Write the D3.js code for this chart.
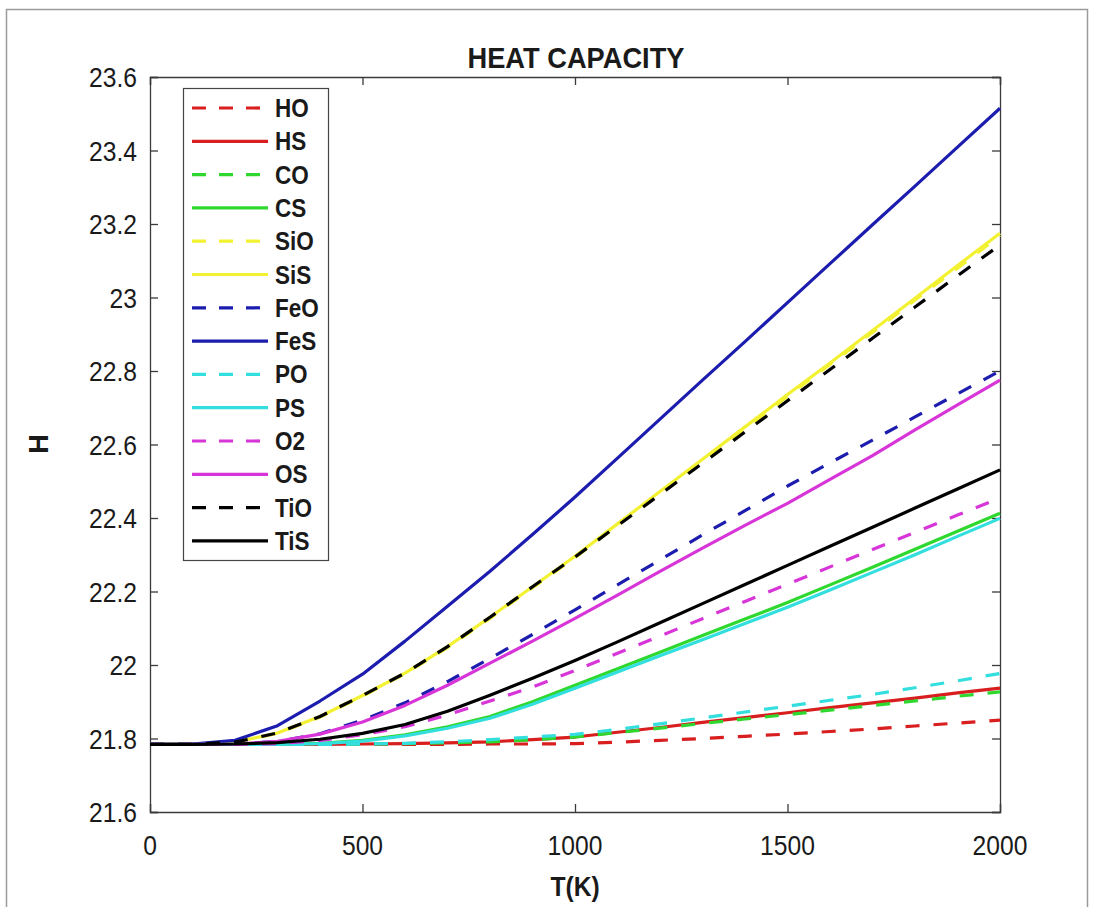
<!DOCTYPE html>
<html lang="en">
  <head>
    <meta charset="utf-8">
    <title>Heat capacity</title>
    <style>
    body {
        margin: 0;
        background: #fff;
    }
    #chart {
        width: 1094px;
        height: 907px;
        position: relative;
    }
    text {
        font-family: "Liberation Sans", Arial, sans-serif;
        fill: #1a1a1a;
    }
    .axis path, .axis line {
        stroke: #3a3a3a;
        stroke-width: 1.3;
    }
    .legend text {
        font-weight: bold;
        font-size: 25px;
    }
    </style>
  </head>
  <body>
    <div id="chart"></div>

    <script src="https://d3js.org/d3.v7.min.js"></script>
    <script>
    // temperature grid (K)
    var temps = [0, 100, 200, 300, 400, 500, 600, 700, 800, 900, 1000,
                 1100, 1200, 1300, 1400, 1500, 1600, 1700, 1800, 1900, 2000];

    var names = ['HO', 'HS', 'CO', 'CS', 'SiO', 'SiS', 'FeO', 'FeS',
                 'PO', 'PS', 'O2', 'OS', 'TiO', 'TiS'];

    var HO  = [21.784,21.784,21.784,21.784,21.784,21.784,21.784,21.784,21.785,21.785,21.786,21.790,21.795,21.800,21.806,21.812,21.819,21.826,21.834,21.842,21.850];
    var HS  = [21.784,21.784,21.784,21.784,21.784,21.785,21.786,21.788,21.791,21.797,21.804,21.817,21.830,21.844,21.857,21.870,21.884,21.897,21.910,21.924,21.937];
    var CO  = [21.784,21.784,21.784,21.784,21.784,21.785,21.786,21.788,21.791,21.797,21.804,21.816,21.828,21.841,21.853,21.865,21.877,21.890,21.902,21.915,21.927];
    var CS  = [21.784,21.784,21.784,21.784,21.787,21.795,21.810,21.832,21.860,21.900,21.945,21.990,22.035,22.080,22.125,22.170,22.218,22.266,22.315,22.364,22.413];
    var SiO = [21.784,21.784,21.790,21.814,21.858,21.915,21.976,22.047,22.127,22.210,22.292,22.380,22.468,22.556,22.643,22.731,22.818,22.905,22.993,23.080,23.168];
    var SiS = [21.784,21.784,21.790,21.815,21.860,21.917,21.978,22.050,22.130,22.213,22.296,22.384,22.472,22.560,22.648,22.736,22.822,22.910,22.998,23.087,23.175];
    var FeO = [21.784,21.784,21.785,21.792,21.813,21.850,21.897,21.955,22.018,22.083,22.150,22.218,22.286,22.354,22.420,22.487,22.550,22.612,22.675,22.738,22.800];
    var FeS = [21.784,21.785,21.795,21.835,21.902,21.975,22.065,22.160,22.255,22.355,22.457,22.563,22.669,22.775,22.880,22.986,23.092,23.198,23.303,23.409,23.515];
    var PO  = [21.784,21.784,21.784,21.784,21.784,21.785,21.787,21.791,21.797,21.804,21.811,21.825,21.840,21.856,21.872,21.888,21.904,21.920,21.938,21.957,21.977];
    var PS  = [21.784,21.784,21.784,21.784,21.786,21.793,21.807,21.828,21.855,21.893,21.937,21.981,22.025,22.069,22.113,22.157,22.204,22.252,22.300,22.350,22.399];
    var O2  = [21.784,21.784,21.784,21.786,21.795,21.810,21.832,21.864,21.902,21.940,21.985,22.032,22.079,22.126,22.173,22.220,22.267,22.314,22.361,22.408,22.454];
    var OS  = [21.784,21.784,21.785,21.792,21.812,21.845,21.890,21.945,22.005,22.065,22.127,22.190,22.255,22.318,22.380,22.440,22.505,22.570,22.640,22.708,22.775];
    var TiO = [21.784,21.784,21.790,21.815,21.860,21.917,21.978,22.050,22.130,22.213,22.294,22.379,22.464,22.549,22.634,22.719,22.804,22.889,22.974,23.059,23.143];
    var TiS = [21.784,21.784,21.785,21.789,21.798,21.814,21.838,21.874,21.918,21.964,22.012,22.063,22.115,22.167,22.219,22.271,22.323,22.375,22.427,22.479,22.531];

    var xTicks = [0, 500, 1000, 1500, 2000];
    var xTickLabels = ['0', '500', '1000', '1500', '2000'];
    var yTicks = [21.6, 21.8, 22, 22.2, 22.4, 22.6, 22.8, 23, 23.2, 23.4, 23.6];
    var yTickLabels = ['21.6', '21.8', '22', '22.2', '22.4', '22.6', '22.8', '23', '23.2', '23.4', '23.6'];

    (function(d3) {
        'use strict';

        var values = [HO, HS, CO, CS, SiO, SiS, FeO, FeS, PO, PS, O2, OS, TiO, TiS];

        // matlab style: dashed = oxide, solid = sulfide
        var colors = ['#d81e1e', '#d81e1e', '#2fd82f', '#2fd82f', '#f2f232', '#f2f232',
                      '#1c1cae', '#1c1cae', '#33dede', '#33dede', '#d835d8', '#d835d8',
                      '#000000', '#000000'];
        var dashed = function(i) { return i % 2 === 0; };

        var width = 1094;
        var height = 907;
        var squeeze = 0.88;   // source text looks horizontally condensed

        var svg = d3.select('#chart')
            .append('svg')
            .attr('width', width)
            .attr('height', height);

        // figure frame
        svg.append('rect')
            .attr('x', 6.5)
            .attr('y', 9.5)
            .attr('width', 1081)
            .attr('height', 1000)
            .attr('fill', 'none')
            .attr('stroke', '#9a9a9a')
            .attr('stroke-width', 1.5);

        var x = d3.scaleLinear().domain([0, 2000]).range([150, 1000]);
        var y = d3.scaleLinear().domain([21.6, 23.6]).range([812, 77]);

        svg.append('rect')
            .attr('x', x(0)).attr('y', y(23.6))
            .attr('width', x(2000) - x(0))
            .attr('height', y(21.6) - y(23.6))
            .attr('fill', '#fff');

        // axes, ticks pointing inward on all four sides
        svg.append('g').attr('class', 'axis')
            .attr('transform', 'translate(0,' + y(21.6) + ')')
            .call(d3.axisBottom(x).tickValues(xTicks).tickSize(-8).tickFormat(''));
        svg.append('g').attr('class', 'axis')
            .attr('transform', 'translate(0,' + y(23.6) + ')')
            .call(d3.axisTop(x).tickValues(xTicks).tickSize(-8).tickFormat(''));
        svg.append('g').attr('class', 'axis')
            .attr('transform', 'translate(' + x(0) + ',0)')
            .call(d3.axisLeft(y).tickValues(yTicks).tickSize(-8).tickFormat(''));
        svg.append('g').attr('class', 'axis')
            .attr('transform', 'translate(' + x(2000) + ',0)')
            .call(d3.axisRight(y).tickValues(yTicks).tickSize(-8).tickFormat(''));
        svg.selectAll('.axis path').attr('fill', 'none');

        // tick labels
        svg.selectAll('.xlab')
            .data(xTicks)
            .enter()
            .append('text')
            .attr('class', 'xlab')
            .attr('text-anchor', 'middle')
            .style('font-size', '28px')
            .attr('transform', function(d) {
                return 'translate(' + x(d) + ',855) scale(' + squeeze + ',1)';
            })
            .text(function(d, i) { return xTickLabels[i]; });

        svg.selectAll('.ylab')
            .data(yTicks)
            .enter()
            .append('text')
            .attr('class', 'ylab')
            .attr('text-anchor', 'end')
            .style('font-size', '28px')
            .attr('transform', function(d) {
                return 'translate(137,' + (y(d) + 10) + ') scale(' + squeeze + ',1)';
            })
            .text(function(d, i) { return yTickLabels[i]; });

        // lines
        var line = d3.line()
            .x(function(d, i) { return x(temps[i]); })
            .y(function(d) { return y(d); });

        svg.append('g')
            .selectAll('path')
            .data(values)
            .enter()
            .append('path')
            .attr('d', line)
            .attr('fill', 'none')
            .attr('stroke', function(d, i) { return colors[i]; })
            .attr('stroke-width', 3.2)
            .attr('stroke-linejoin', 'round')
            .attr('stroke-dasharray', function(d, i) { return dashed(i) ? '14,14' : null; });

        // title and axis labels
        svg.append('text')
            .attr('text-anchor', 'middle')
            .attr('transform', 'translate(576,68) scale(0.94,1)')
            .style('font-size', '29px')
            .style('font-weight', 'bold')
            .text('HEAT CAPACITY');

        svg.append('text')
            .attr('text-anchor', 'middle')
            .attr('transform', 'translate(575,896) scale(' + squeeze + ',1)')
            .style('font-size', '28px')
            .style('font-weight', 'bold')
            .text('T(K)');

        svg.append('text')
            .attr('text-anchor', 'middle')
            .attr('transform', 'translate(48,444) rotate(-90)')
            .style('font-size', '27px')
            .style('font-weight', 'bold')
            .text('H');

        // legend
        var legendTop = 108;
        var legendStep = 33.3;

        var legendBox = svg.append('g').attr('class', 'legend');

        legendBox.append('rect')
            .attr('x', 183.5)
            .attr('y', 88.5)
            .attr('width', 145)
            .attr('height', 472)
            .attr('fill', '#fff')
            .attr('stroke', '#444')
            .attr('stroke-width', 1.2);

        var legend = legendBox.selectAll('.entry')
            .data(names)
            .enter()
            .append('g')
            .attr('class', 'entry')
            .attr('transform', function(d, i) {
                return 'translate(0,' + (legendTop + i * legendStep) + ')';
            });

        legend.append('line')
            .attr('x1', 192)
            .attr('x2', 268)
            .attr('stroke', function(d, i) { return colors[i]; })
            .attr('stroke-width', 3.2)
            .attr('stroke-dasharray', function(d, i) { return dashed(i) ? '14,13' : null; });

        legend.append('text')
            .attr('transform', 'translate(275,9) scale(0.9,1)')
            .text(function(d) { return d; });

    })(window.d3);
    </script>
  </body>
</html>
